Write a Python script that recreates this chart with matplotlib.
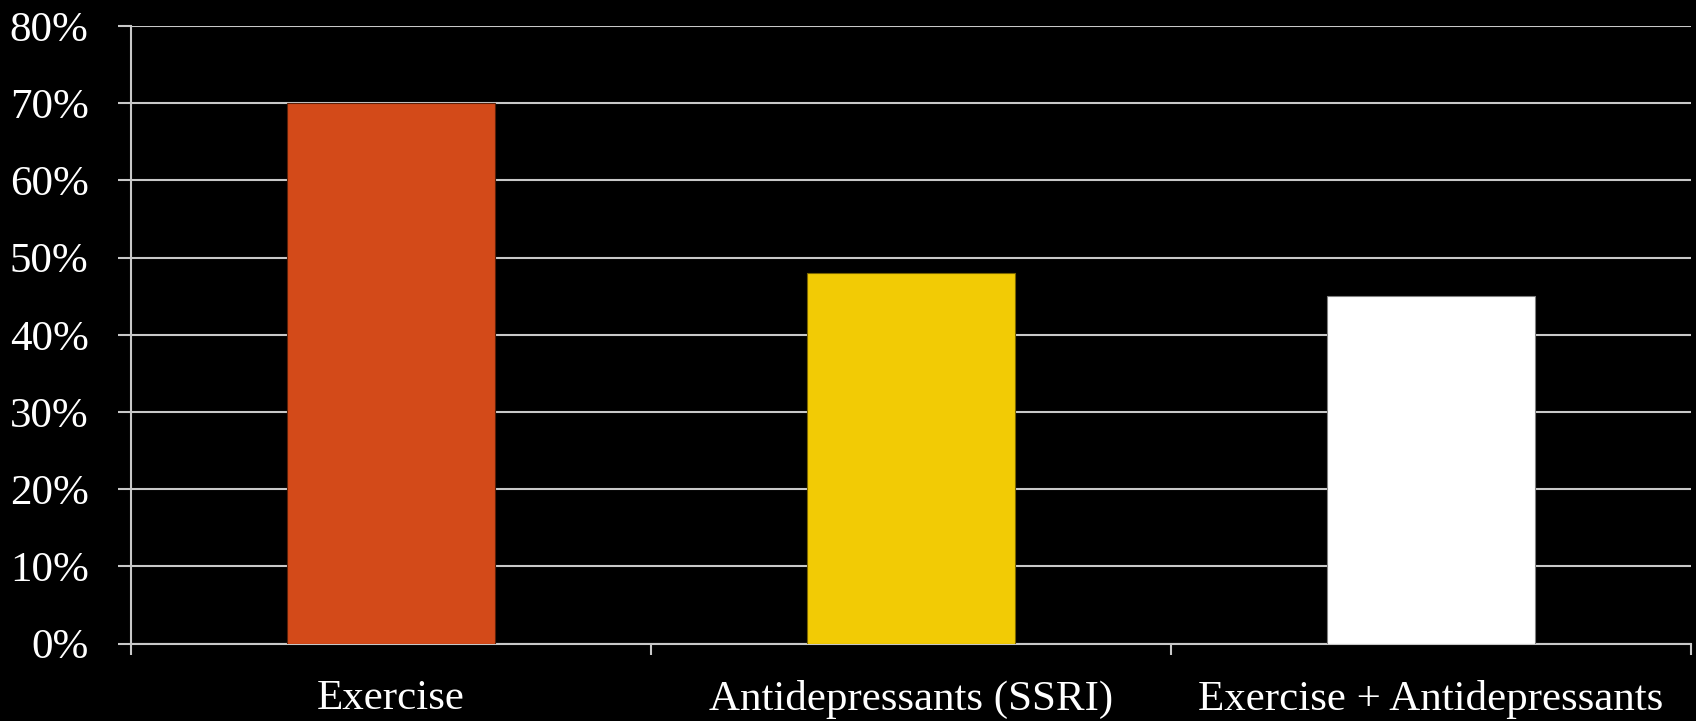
import matplotlib
matplotlib.use("Agg")
import matplotlib.pyplot as plt
from matplotlib.ticker import PercentFormatter

categories = ["Exercise", "Antidepressants (SSRI)", "Exercise + Antidepressants"]
values = [70, 48, 45]
bar_colors = ["#D34A19", "#F2CB05", "#FFFFFF"]
edge_colors = ["#5a2008", "#7a6400", "#808080"]
y_ticks = [0, 10, 20, 30, 40, 50, 60, 70, 80]

plt.rcParams["font.family"] = ["Liberation Serif", "DejaVu Serif"]

fig = plt.figure(figsize=(16.96, 7.21), dpi=100, facecolor="black")
ax = fig.add_axes([131 / 1696, 1 - 643.5 / 721, (1691 - 131) / 1696, (643.5 - 26) / 721])
ax.set_facecolor("black")

grid_color = "#c8c8c8"
x = list(range(len(categories)))
ax.bar(x, values, width=0.4, color=bar_colors, edgecolor=edge_colors,
       linewidth=0.8, zorder=3)

ax.set_xlim(-0.5, len(categories) - 0.5)
ax.set_ylim(0, 80)
ax.set_yticks(y_ticks)
ax.yaxis.set_major_formatter(PercentFormatter(decimals=0))
ax.yaxis.grid(True, color=grid_color, linewidth=1.5, zorder=0)
ax.set_axisbelow(True)

# category boundaries carry the tick marks, centres carry the labels
ax.set_xticks([i - 0.5 for i in range(len(categories) + 1)])
ax.set_xticklabels([])
ax.set_xticks(x, minor=True)
ax.set_xticklabels(categories, minor=True)
ax.tick_params(axis="x", which="major", direction="out", length=8,
               width=1.5, color=grid_color)
ax.tick_params(axis="x", which="minor", length=0, pad=26,
               labelsize=31, labelcolor="white")
ax.tick_params(axis="y", direction="out", length=9.5, width=1.5,
               color=grid_color, pad=21, labelsize=31, labelcolor="white")

for side in ["top", "right"]:
    ax.spines[side].set_visible(False)
for side in ["left", "bottom"]:
    ax.spines[side].set_color(grid_color)
    ax.spines[side].set_linewidth(1.5)

fig.savefig("out.png", dpi=100, facecolor="black")
